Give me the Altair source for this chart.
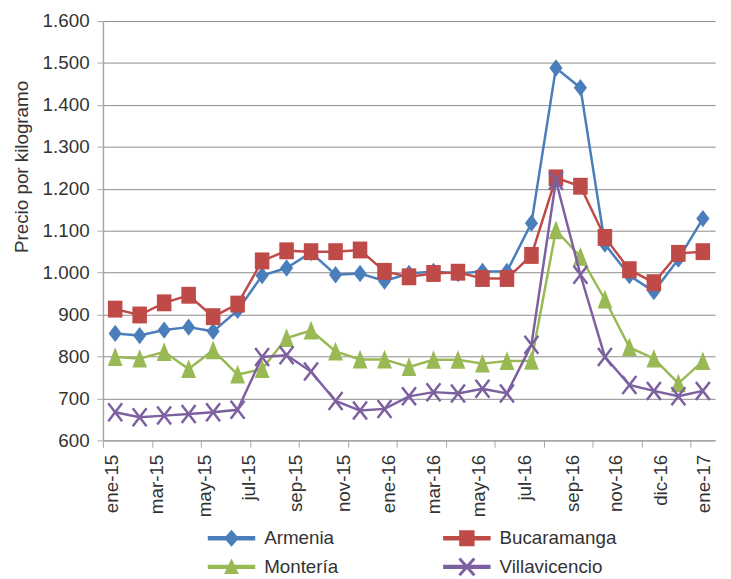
import json
import altair as alt
import pandas as pd

# ---------------- data ----------------
meses = ["ene-15", "feb-15", "mar-15", "abr-15", "may-15", "jun-15", "jul-15",
         "ago-15", "sep-15", "oct-15", "nov-15", "dic-15", "ene-16", "feb-16",
         "mar-16", "abr-16", "may-16", "jun-16", "jul-16", "ago-16", "sep-16",
         "oct-16", "nov-16", "dic-16", "ene-17"]
series = ["Armenia", "Bucaramanga", "Montería", "Villavicencio"]

armenia = [855, 850, 863, 870, 860, 910, 993, 1011, 1048, 995, 998, 980, 998,
           1003, 998, 1003, 1003, 1118, 1488, 1441, 1068, 993, 955, 1032, 1129]
bucaramanga = [913, 899, 928, 946, 895, 925, 1028, 1052, 1050, 1050, 1054, 1003,
               990, 998, 1001, 986, 986, 1041, 1226, 1206, 1084, 1007, 976, 1046, 1050]
monteria = [799, 795, 811, 770, 815, 757, 770, 844, 862, 812, 793, 793, 775,
            792, 792, 783, 789, 790, 1101, 1038, 936, 822, 795, 736, 789]
villavicencio = [667, 655, 659, 663, 667, 673, 799, 803, 764, 694, 671, 675, 705,
                 715, 712, 723, 712, 828, 1219, 995, 799, 732, 718, 705, 718]
valores = [armenia, bucaramanga, monteria, villavicencio]

colores = ["#4A7EBB", "#BE4B48", "#98B954", "#7D60A0"]

# axis tick marks (between months) and label positions (month units)
x_tick_pos = [-0.5, 1.5, 3.5, 5.5, 7.5, 9.5, 11.5, 13.5, 15.5, 17.5, 19.5, 21.5, 23.5]
x_label_pos = [-0.15, 1.71, 3.65, 5.43, 7.38, 9.32, 11.16, 13.0, 14.86, 16.72,
               18.66, 20.44, 22.28, 24.04]
x_labels = ["ene-15", "mar-15", "may-15", "jul-15", "sep-15", "nov-15", "ene-16",
            "mar-16", "may-16", "jul-16", "sep-16", "nov-16", "dic-16", "ene-17"]
y_ticks = [600, 700, 800, 900, 1000, 1100, 1200, 1300, 1400, 1500, 1600]

# marker shapes used in the plot
marker_paths = [
    "M0,-1.25L0.95,0L0,1.25L-0.95,0Z",
    "M-1.05,-1.22L1.05,-1.22L1.05,1.22L-1.05,1.22Z",
    "M0,-1.4L1.07,1.3L-1.07,1.3Z",
    "M-1,-1.3L1,1.3M-1,1.3L1,-1.3",
]
# legend symbols: line + marker
LINE = "M-2.4,-0.22L2.4,-0.22L2.4,0.22L-2.4,0.22Z"
legend_paths = [
    LINE + "M0,-0.85L0.75,0L0,0.85L-0.75,0Z",
    LINE + "M-0.78,-0.8L0.78,-0.8L0.78,0.8L-0.78,0.8Z",
    LINE + "M0,-0.85L0.75,0.72L-0.75,0.72Z",
    LINE + "M-0.64,-0.95L0.86,0.75L0.64,0.95L-0.86,-0.75Z"
         + "M0.86,-0.75L-0.64,0.95L-0.86,0.75L0.64,-0.95Z",
]

rows = []
for s, vals in zip(series, valores):
    for i, v in enumerate(vals):
        rows.append({"mes": i, "etiqueta": meses[i], "serie": s, "precio": v})
df = pd.DataFrame(rows)

# ---------------- styling ----------------
FONT = "Liberation Sans"
TXT = "#333333"
GRID = "#8C8C8C"
AXC = "#A6A6A6"
FS = 19

x_scale = alt.Scale(domain=[-0.5, 24.5], nice=False, zero=False)
y_scale = alt.Scale(domain=[600, 1600], nice=False, zero=False)

axis_x_ticks = alt.Axis(orient="bottom", values=x_tick_pos, labels=False, ticks=True,
                        tickSize=7, tickColor=AXC, tickWidth=1, domain=True,
                        domainColor=AXC, domainWidth=1.5, grid=False, title=None)
label_expr = "{}[indexof({}, datum.value)]".format(json.dumps(x_labels), json.dumps(x_label_pos))
axis_x_labels = alt.Axis(orient="bottom", values=x_label_pos, labelExpr=label_expr,
                         labelAngle=270, labelFontSize=FS, labelFont=FONT, labelColor=TXT,
                         labelPadding=14, labelOverlap=False, labelFlush=False,
                         ticks=False, domain=False, grid=False, title=None)
axis_y = alt.Axis(values=y_ticks, labelExpr="replace(format(datum.value, ','), ',', '.')",
                  labelFontSize=FS, labelFont=FONT, labelColor=TXT, labelPadding=8,
                  tickSize=6, tickColor=AXC, domain=True, domainColor=AXC, domainWidth=1.5,
                  grid=True, gridColor=GRID, gridWidth=1,
                  title="Precio por kilogramo", titleFont=FONT, titleFontSize=FS,
                  titleFontWeight="normal", titleColor=TXT, titleAngle=270,
                  titleX=-82, titleY=147, titleAlign="center", titleBaseline="middle")

layers = []
for i, s in enumerate(series):
    sub = alt.Chart(df).transform_filter(alt.datum.serie == s)
    xa = axis_x_ticks if i == 0 else (axis_x_labels if i == 1 else None)
    line = sub.mark_line(color=colores[i], strokeWidth=2.5).encode(
        x=alt.X("mes:Q", scale=x_scale, axis=xa),
        y=alt.Y("precio:Q", scale=y_scale, axis=axis_y),
    )
    if s == "Villavicencio":
        pts = sub.mark_point(shape=marker_paths[i], filled=False, size=196,
                             color=colores[i], strokeWidth=2.5, opacity=1)
    else:
        pts = sub.mark_point(shape=marker_paths[i], filled=True, size=196,
                             color=colores[i], opacity=1)
    pts = pts.encode(
        x=alt.X("mes:Q", scale=x_scale, axis=None),
        y=alt.Y("precio:Q", scale=y_scale, axis=axis_y),
    )
    layers += [line, pts]

leg = alt.Legend(title=None, orient="none", legendX=120, legendY=513, columns=2,
                 direction="horizontal",
                 symbolSize=400, symbolOpacity=1, symbolStrokeWidth=0,
                 labelFontSize=FS, labelFont=FONT, labelColor=TXT, labelOffset=23,
                 columnPadding=106, rowPadding=9, padding=0)

legend_layer = alt.Chart(df).mark_point(filled=True, opacity=0).encode(
    x=alt.X("mes:Q", scale=x_scale, axis=None),
    y=alt.Y("precio:Q", scale=y_scale, axis=axis_y),
    color=alt.Color("serie:N", scale=alt.Scale(domain=series, range=colores), legend=leg),
    shape=alt.Shape("serie:N", scale=alt.Scale(domain=series, range=legend_paths), legend=leg),
)
layers.append(legend_layer)

chart = alt.layer(*layers).resolve_axis(x="independent").properties(
    width=619, height=424,
    autosize=alt.AutoSizeParams(type="none"),
    padding={"left": 96, "top": 10, "right": 8, "bottom": 137},
).configure(font=FONT).configure_view(stroke=None)

chart.save("out.html", embed_options={"renderer": "svg", "actions": False})
